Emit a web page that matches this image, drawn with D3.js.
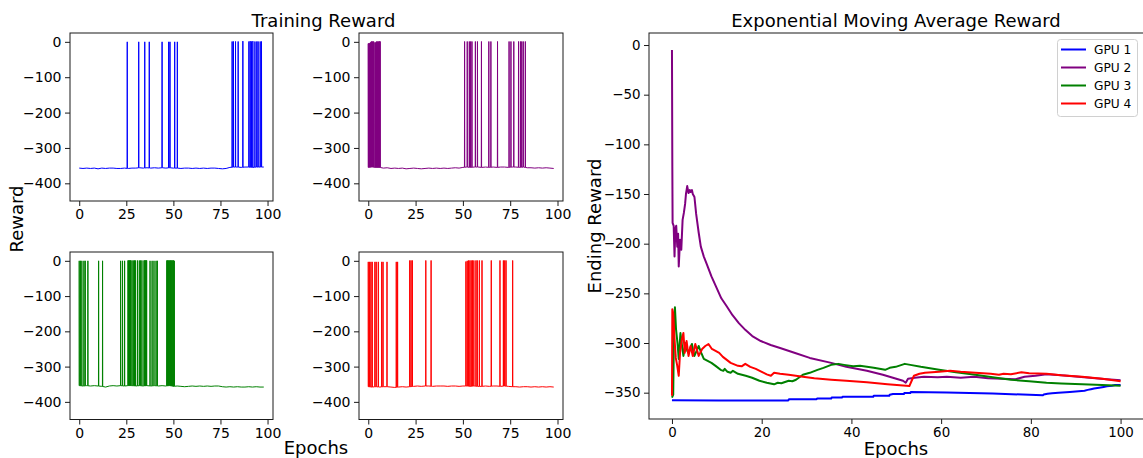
<!DOCTYPE html>
<html>
<head>
<meta charset="utf-8">
<script src="https://cdn.jsdelivr.net/npm/d3@7"></script>
<style>
  body { margin: 0; background: #fff; }
  svg { display: block; }
  text { font-family: "DejaVu Sans", sans-serif; fill: #000; }
</style>
</head>
<body>
<svg id="chart" width="1143" height="458"></svg>
<script>
// ---- data ---------------------------------------------------------------
const gpuNames = ["GPU 1", "GPU 2", "GPU 3", "GPU 4"];
const gpuColors = ["blue", "purple", "green", "red"];

// Baseline (non-terminal) reward sampled every 2 epochs, 0..98
const baseEpochs = [0,2,4,6,8,10,12,14,16,18,20,22,24,26,28,30,32,34,36,38,40,42,44,46,48,
                    50,52,54,56,58,60,62,64,66,68,70,72,74,76,78,80,82,84,86,88,90,92,94,96,98];
const baseGpu1 = [-357,-358,-357,-358,-357,-359,-357,-358,-357,-357,-358,-358,-357,-358,-357,-357,-356,-357,-356,-357,
                  -356,-357,-356,-357,-356,-357,-357,-358,-357,-357,-358,-357,-358,-357,-358,-357,-357,-358,-359,-358,
                  -355,-354,-354,-355,-354,-354,-355,-354,-354,-354];
const baseGpu2 = [-355,-354,-355,-355,-357,-356,-358,-357,-358,-357,-359,-358,-357,-358,-359,-358,-357,-358,-357,-358,
                  -357,-358,-357,-356,-357,-355,-354,-355,-354,-354,-355,-354,-355,-354,-355,-354,-354,-355,-354,-354,
                  -355,-354,-356,-356,-357,-356,-357,-356,-357,-358];
const baseGpu3 = [-354,-355,-354,-355,-354,-355,-356,-358,-355,-354,-355,-354,-355,-354,-354,-355,-354,-355,-354,-355,
                  -354,-355,-354,-355,-354,-356,-355,-356,-357,-356,-355,-356,-355,-356,-355,-356,-355,-355,-357,-358,
                  -357,-358,-357,-358,-358,-357,-358,-357,-358,-358];
const baseGpu4 = [-357,-358,-357,-358,-357,-357,-358,-359,-358,-357,-358,-357,-356,-355,-356,-355,-355,-356,-355,-355,
                  -355,-356,-355,-355,-356,-355,-355,-356,-355,-356,-356,-355,-356,-355,-355,-356,-355,-356,-357,-357,
                  -358,-357,-357,-358,-357,-358,-357,-358,-357,-358];

// Terminal-success episodes: [epoch, reward]
const spikesGpu1 = [[25.5,0],[31.6,0],[34.8,0],[37.2,0],[44.0,0],[47.5,0],[48.2,0],[50.7,0],[52.1,0],
                    [81.2,1],[81.9,1],[83.0,1],[84.4,1],[86.9,2],[90.1,1],[90.8,2],[91.5,1],[92.2,2],
                    [93.3,1],[94.3,1],[95.0,1],[96.1,1],[96.8,1]];
const spikesGpu2 = [[0.0,-5],[0.3,-4],[0.6,-5],[0.9,-3],[1.2,-2],[1.5,0],[1.8,1],[2.1,1],[2.4,0],[2.7,1],
                    [3.0,0],[3.6,-3],[3.9,-2],[4.2,0],[4.5,1],[4.8,0],[5.1,1],[5.4,0],[5.7,1],[6.0,1],[6.3,1],
                    [50.9,1],[52.3,1],[53.4,1],[54.1,1],[54.8,1],[56.6,1],[57.7,1],[59.8,1],[63.7,1],[64.8,1],
                    [68.3,1],[74.4,1],[75.4,1],[76.9,1],[79.4,1],[80.4,1],[81.1,1],[81.9,1],[83.0,1]];
const spikesGpu3 = [[0.0,0],[0.7,0],[1.4,0],[2.5,0],[3.2,0],[4.6,0],[10.3,0],[12.4,0],
                    [22.0,0],[23.0,0],[24.1,0],[25.9,1],[26.3,1],[26.6,1],[27.0,1],[27.3,1],[28.0,1],[28.7,1],
                    [29.4,1],[29.8,1],[30.9,1],[31.9,1],[32.6,1],[33.3,1],[34.4,1],[34.8,1],[35.1,1],[35.5,1],
                    [35.8,1],[37.6,0],[38.7,0],[39.7,0],[40.8,0],[41.5,0],
                    [46.5,1],[46.9,1],[47.3,1],[47.7,1],[48.1,1],[48.5,1],[48.9,1],[49.3,1],[49.7,1],[50.1,1],
                    [50.5,0]];
const spikesGpu4 = [[0.0,-3],[0.7,-3],[1.4,-3],[2.1,-3],[3.5,-3],[4.2,-3],[5.3,-3],[7.1,-3],[7.8,-3],[9.9,-3],
                    [14.8,-3],[15.5,-3],[21.9,1],[22.6,1],[23.3,1],[30.4,1],[33.2,1],
                    [51.6,-2],[52.3,0],[53.0,1],[53.7,1],[54.4,1],[55.1,1],[55.8,1],[56.9,1],[57.6,1],[58.7,1],
                    [60.1,1],[65.0,1],[69.6,1],[71.4,1],[72.1,1],[72.8,1],[76.3,1]];

// Exponential moving average of the ending reward: [epoch, value]
const emaGpu1 = [[0,-357.5],[10.33,-357.8],[20.52,-357.8],[25.92,-357.8],[26.12,-356.5],[32.24,-356.5],
                 [32.34,-355.8],[35.5,-355.8],[35.6,-354.9],[37.94,-354.8],[38.05,-354],[44.87,-354.1],
                 [44.98,-353],[48.44,-353.2],[48.54,-352],[49.26,-351.3],[51.7,-351.3],[51.8,-350.3],
                 [53.13,-350.3],[53.23,-349.3],[61.28,-349.8],[71.47,-350.8],[82.68,-352.6],[82.88,-351.8],
                 [83.7,-351],[84.72,-350.5],[86.16,-350],[88.69,-349.2],[91.96,-348],[92.67,-347.2],
                 [93.38,-346.5],[94.09,-345.8],[95.21,-345],[96.23,-344.2],[96.95,-343.6],[98.07,-343],
                 [98.78,-342.3],[100,-342.2]];
const emaGpu2 = [[0,-5],[0.08,-122],[0.14,-179],[0.38,-182],[0.57,-213],[0.76,-185],[0.95,-182],[1.18,-203],
                 [1.37,-190],[1.51,-223],[1.8,-196],[2.08,-206],[2.37,-176],[2.65,-169],[2.93,-160],[3.12,-150],
                 [3.4,-142],[3.69,-149],[3.97,-146],[4.16,-148],[4.45,-146],[4.64,-150],[5.01,-153],[5.39,-170],
                 [5.96,-189],[6.43,-203],[7.1,-213],[7.8,-221],[8.8,-233],[9.8,-243],[11,-255],[12.2,-263],
                 [13.5,-272],[14.9,-280],[16.4,-287],[17.9,-293],[19.8,-298],[22,-302],[24.1,-305],
                 [27.45,-310],[30.71,-315],[35.5,-320],[38.86,-324],[43.45,-328],[47.01,-332],[51.5,-338],
                 [52.11,-340],[52.62,-336],[54.15,-335],[56.18,-334],[59.24,-334.5],[61.28,-334],[64.34,-335],
                 [67.39,-334],[70.45,-335.5],[73.51,-336],[76.57,-336.5],[78.6,-334],[81.05,-333],
                 [83.49,-331.5],[86.76,-332.5],[91.85,-334.5],[96.95,-336.5],[100,-337.6]];
const emaGpu3 = [[0,-355],[0.28,-352],[0.47,-280],[0.66,-264],[0.9,-286],[1.23,-300],[1.51,-316],[1.89,-290],
                 [2.22,-302],[2.55,-313],[2.84,-305],[3.12,-300],[3.41,-308],[3.69,-310],[4.07,-305],
                 [4.45,-301],[4.73,-308],[5.01,-313],[5.49,-308],[5.96,-303],[6.53,-310],[7.1,-316],
                 [8.8,-320],[9.72,-323],[10.84,-327],[11.45,-328],[11.76,-326],[12.37,-329],[13.08,-330],
                 [13.59,-328],[14.71,-331],[16.44,-333],[17.87,-335],[19.5,-338],[21.13,-340],[22.76,-341.6],
                 [23.58,-340],[24.39,-340.5],[26.02,-338],[26.84,-338.5],[27.65,-337],[29.18,-332],
                 [30.71,-330],[32.44,-327],[33.77,-325],[35.5,-322],[37.13,-321],[38.35,-322],[40.39,-323.5],
                 [41.92,-323],[43.45,-324],[44.98,-325],[47.52,-327],[48.54,-325],[49.87,-324],[51.9,-321],
                 [53.13,-322],[55.47,-324],[59.55,-327],[63.32,-329.5],[67.6,-332],[71.47,-334.5],
                 [75.55,-337],[79.62,-338.5],[83.49,-340],[86.76,-340.8],[91.44,-341.6],[95.93,-342.3],
                 [100,-343]];
const emaGpu4 = [[0,-353],[0.08,-266],[0.28,-270],[0.57,-296],[0.85,-315],[1.18,-323],[1.51,-333],[1.8,-310],
                 [2.22,-296],[2.55,-290],[2.84,-310],[3.26,-298],[3.69,-313],[4.16,-303],[4.64,-313],
                 [5.2,-301],[5.96,-313],[6.72,-306],[7.43,-303],[8.14,-301],[8.9,-306],[10.53,-310],
                 [11.35,-314],[13.08,-320],[14.71,-323],[15.53,-323.5],[16.34,-321],[17.46,-324],[18.69,-326],
                 [20.01,-329],[21.13,-331.6],[22.05,-333],[22.76,-330],[24.09,-331],[26.02,-332],[29.18,-334],
                 [31.73,-335.5],[35.5,-337],[38.86,-338],[43.45,-339.5],[48.03,-341.5],[52.92,-343.4],
                 [53.43,-338],[53.94,-333],[55.17,-331],[56.39,-330],[59.55,-329],[61.99,-328],[64.34,-329],
                 [67.6,-330],[71.06,-331],[72.9,-332],[73.92,-331],[75.55,-331.5],[77.89,-329.5],
                 [79.62,-330.5],[83.49,-331],[86.76,-332.5],[91.44,-334],[95.93,-336],[100,-338.5]];

const smallXTicks = [0, 25, 50, 75, 100];
const smallYTicks = [0, -100, -200, -300, -400];
const emaXTicks = [0, 20, 40, 60, 80, 100];
const emaYTicks = [0, -50, -100, -150, -200, -250, -300, -350];

// ---- drawing --------------------------------------------------------------
const svg = d3.select("#chart");
const fmt = d3.format("d"); // d3 v7 uses the U+2212 minus sign

function frame(g, x0, y0, x1, y1) {
  g.append("rect")
    .attr("x", x0).attr("y", y0).attr("width", x1 - x0).attr("height", y1 - y0)
    .attr("fill", "none").attr("stroke", "#1a1a1a").attr("stroke-width", 1);
}

function styleAxis(sel, fontSize) {
  sel.select(".domain").remove();
  sel.selectAll(".tick line").attr("stroke", "#1a1a1a").attr("stroke-width", 1);
  sel.selectAll(".tick text")
    .attr("font-family", "DejaVu Sans")
    .attr("font-size", fontSize)
    .attr("fill", "#111");
}

// Build the training-reward trace: baseline samples plus thin spikes
function buildTrace(base, spikes) {
  const interp = e => {
    const i = Math.min(base.length - 2, Math.max(0, Math.floor(e / 2)));
    const t = (e - baseEpochs[i]) / (baseEpochs[i + 1] - baseEpochs[i]);
    return base[i] + (base[i + 1] - base[i]) * Math.max(0, Math.min(1, t));
  };
  const hw = 0.08;
  const pts = [];
  baseEpochs.forEach((e, i) => {
    if (!spikes.some(s => Math.abs(s[0] - e) <= hw)) pts.push([e, base[i]]);
  });
  spikes.forEach(([e, top]) => {
    const b = interp(e);
    pts.push([Math.max(0, e - hw), b], [e, top], [e + hw, b]);
  });
  pts.sort((a, b) => a[0] - b[0]);
  return pts;
}

const panels = [
  { x0: 70,  x1: 273, y0: 33,  y1: 201, base: baseGpu1, spikes: spikesGpu1, color: gpuColors[0] },
  { x0: 359, x1: 563, y0: 33,  y1: 201, base: baseGpu2, spikes: spikesGpu2, color: gpuColors[1] },
  { x0: 70,  x1: 273, y0: 252, y1: 419.5, base: baseGpu3, spikes: spikesGpu3, color: gpuColors[2] },
  { x0: 359, x1: 563, y0: 252, y1: 419.5, base: baseGpu4, spikes: spikesGpu4, color: gpuColors[3] }
];

panels.forEach((p, idx) => {
  const g = svg.append("g");
  const x = d3.scaleLinear().domain([-4.9, 102.9]).range([p.x0, p.x1]);
  const y = d3.scaleLinear().domain([-450, 25]).range([p.y1, p.y0]);

  const clipId = "clip" + idx;
  svg.append("clipPath").attr("id", clipId).append("rect")
    .attr("x", p.x0).attr("y", p.y0).attr("width", p.x1 - p.x0).attr("height", p.y1 - p.y0);

  const line = d3.line().x(d => x(d[0])).y(d => y(d[1]));
  g.append("path")
    .datum(buildTrace(p.base, p.spikes))
    .attr("clip-path", `url(#${clipId})`)
    .attr("fill", "none").attr("stroke", p.color).attr("stroke-width", 1)
    .attr("stroke-linejoin", "miter")
    .attr("d", line);

  g.append("g").attr("transform", `translate(0,${p.y1})`)
    .call(d3.axisBottom(x).tickValues(smallXTicks).tickFormat(fmt).tickSizeInner(5).tickSizeOuter(0).tickPadding(3.5))
    .call(s => styleAxis(s, 14));
  g.append("g").attr("transform", `translate(${p.x0},0)`)
    .call(d3.axisLeft(y).tickValues(smallYTicks).tickFormat(fmt).tickSizeInner(5).tickSizeOuter(0).tickPadding(3.5))
    .call(s => styleAxis(s, 14));
  frame(g, p.x0, p.y0, p.x1, p.y1);
});

// Shared labels of the training grid
svg.append("text").attr("x", 323.5).attr("y", 27).attr("text-anchor", "middle")
  .attr("font-size", 18).text("Training Reward");
svg.append("text").attr("x", 316).attr("y", 453.5).attr("text-anchor", "middle")
  .attr("font-size", 18).text("Epochs");
svg.append("text").attr("transform", "translate(23,219) rotate(-90)").attr("text-anchor", "middle")
  .attr("font-size", 18).text("Reward");

// ---- EMA panel -------------------------------------------------------------
const E = { x0: 649, x1: 1143, y0: 33, y1: 419 };
const ex = d3.scaleLinear().domain([-5.12, 105]).range([E.x0, E.x1]);
const ey = d3.scaleLinear().domain([-376.5, 12.1]).range([E.y1, E.y0]);
const eg = svg.append("g");

svg.append("clipPath").attr("id", "clipEma").append("rect")
  .attr("x", E.x0).attr("y", E.y0).attr("width", E.x1 - E.x0).attr("height", E.y1 - E.y0);

const emaSeries = [emaGpu1, emaGpu2, emaGpu3, emaGpu4];
const eline = d3.line().x(d => ex(d[0])).y(d => ey(d[1])).curve(d3.curveLinear);
emaSeries.forEach((s, i) => {
  eg.append("path").datum(s)
    .attr("clip-path", "url(#clipEma)")
    .attr("fill", "none").attr("stroke", gpuColors[i]).attr("stroke-width", 2)
    .attr("stroke-linejoin", "round")
    .attr("d", eline);
});

eg.append("g").attr("transform", `translate(0,${E.y1})`)
  .call(d3.axisBottom(ex).tickValues(emaXTicks).tickFormat(fmt).tickSizeInner(5).tickSizeOuter(0).tickPadding(3.5))
  .call(s => styleAxis(s, 13.4));
eg.append("g").attr("transform", `translate(${E.x0},0)`)
  .call(d3.axisLeft(ey).tickValues(emaYTicks).tickFormat(fmt).tickSizeInner(5).tickSizeOuter(0).tickPadding(3.5))
  .call(s => styleAxis(s, 13.4));
frame(eg, E.x0, E.y0, E.x1 + 1, E.y1);

svg.append("text").attr("x", 896).attr("y", 27).attr("text-anchor", "middle")
  .attr("font-size", 18).text("Exponential Moving Average Reward");
svg.append("text").attr("x", 896).attr("y", 455).attr("text-anchor", "middle")
  .attr("font-size", 18).text("Epochs");
svg.append("text").attr("transform", "translate(600.5,226) rotate(-90)").attr("text-anchor", "middle")
  .attr("font-size", 18).text("Ending Reward");

// Legend
const lg = svg.append("g");
lg.append("rect").attr("x", 1057.5).attr("y", 39.5).attr("width", 80).attr("height", 77)
  .attr("rx", 3).attr("fill", "#fff").attr("fill-opacity", 0.8)
  .attr("stroke", "#d0d0d0").attr("stroke-width", 1);
gpuNames.forEach((name, i) => {
  const cy = 49.5 + i * 18;
  lg.append("line").attr("x1", 1061).attr("x2", 1086).attr("y1", cy).attr("y2", cy)
    .attr("stroke", gpuColors[i]).attr("stroke-width", 2);
  lg.append("text").attr("x", 1094).attr("y", cy).attr("dy", "0.36em")
    .attr("font-size", 12.2).text(name);
});
</script>
</body>
</html>
